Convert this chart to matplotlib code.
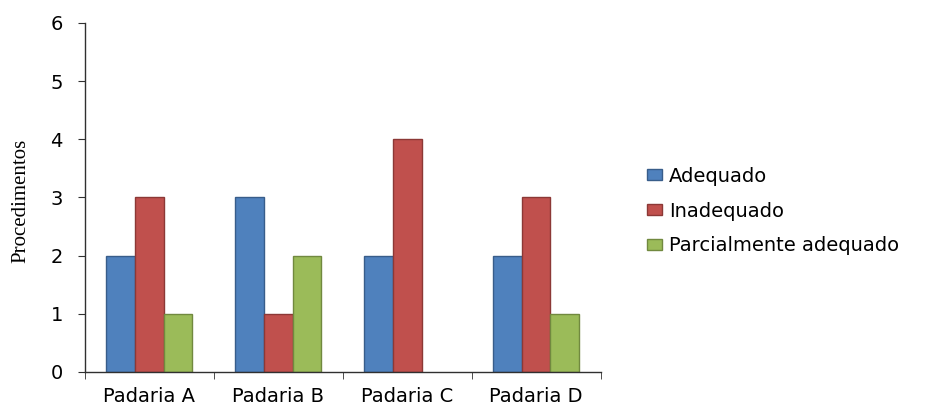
import matplotlib.pyplot as plt
import numpy as np

padarias = ['Padaria A', 'Padaria B', 'Padaria C', 'Padaria D']
adequado = [2, 3, 2, 2]
inadequado = [3, 1, 4, 3]
parcial = [1, 2, 0, 1]

series = ['Adequado', 'Inadequado', 'Parcialmente adequado']
cores = ['#4f81bd', '#c0504d', '#9bbb59']
bordas = ['#385d8a', '#8c3836', '#71893f']

plt.rcParams['font.family'] = ['DejaVu Sans']

fig = plt.figure(figsize=(9.34, 4.05), dpi=100)
ax = fig.add_axes([0.091, 0.0815, 0.552, 0.862])

x = np.arange(len(padarias))
w = 1 / 4.5
for i, vals in enumerate([adequado, inadequado, parcial]):
    v = np.array(vals, dtype=float)
    h = np.where(v > 0, v, np.nan)
    ax.bar(x + (i - 1) * w, h, width=w, color=cores[i], edgecolor=bordas[i],
           linewidth=1.0, label=series[i])

ax.set_xlim(-0.5, 3.5)
ax.set_ylim(0, 6)
ax.set_yticks(range(7))
ax.set_xticks(x)
ax.set_xticklabels(padarias, fontsize=14)
ax.set_xticks(np.arange(-0.5, 4.0, 1.0), minor=True)
ax.tick_params(axis='x', which='major', length=0, pad=11)
ax.tick_params(axis='x', which='minor', length=5, direction='out', color='#303030')
ax.tick_params(axis='y', labelsize=14, length=5, color='#303030', pad=11)

for s in ['top', 'right']:
    ax.spines[s].set_visible(False)
for s in ['left', 'bottom']:
    ax.spines[s].set_color('#303030')
    ax.spines[s].set_linewidth(1.0)

ax.set_ylabel('Procedimentos', family=['Liberation Serif'], fontsize=15)
ax.yaxis.set_label_coords(-0.105, 0.49)

fig.legend(loc='center left', bbox_to_anchor=(0.674, 0.479), frameon=False,
           fontsize=14, handlelength=0.77, handleheight=0.46, handletextpad=0.36,
           labelspacing=0.82)

fig.savefig('out.png', dpi=100)
